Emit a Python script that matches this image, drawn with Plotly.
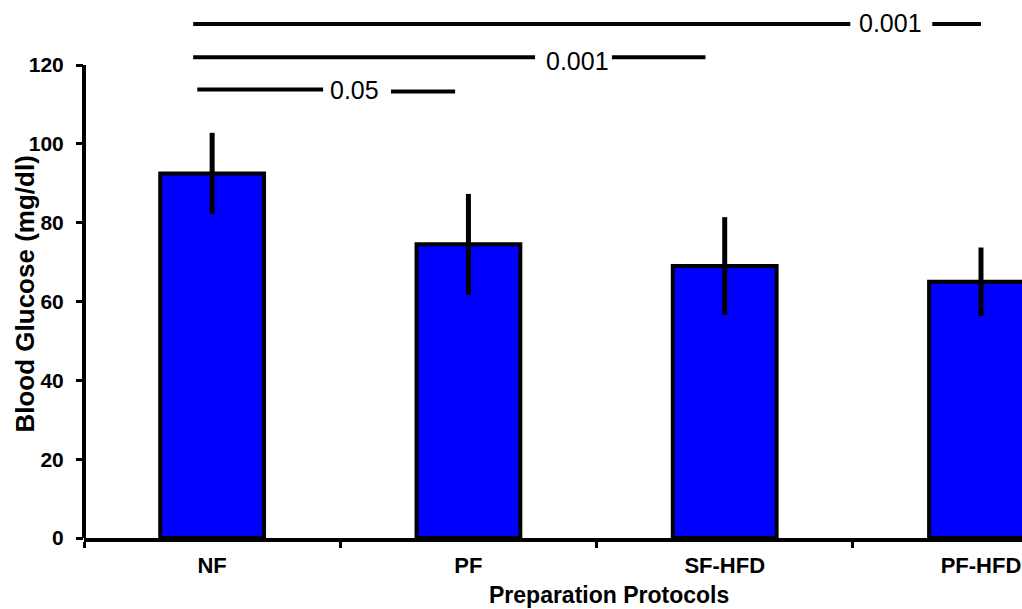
import plotly.graph_objects as go

# ---- data ----
categories = ["NF", "PF", "SF-HFD", "PF-HFD"]
glucose_mean = [92.5, 74.5, 69.0, 65.0]
glucose_err = [10.3, 12.8, 12.4, 8.7]
y_tick_values = [0, 20, 40, 60, 80, 100, 120]
sig_labels = ["0.001", "0.001", "0.05"]

# bracket layout (x in category units, y in axis units)
brackets = [
    dict(x0=-0.074, x1=2.49, x2=2.81, x3=3.0, y=130.4, y2=130.4, tx=2.645, ty=130.6),
    dict(x0=-0.074, x1=1.26, x2=1.56, x3=1.925, y=122.0, y2=122.0, tx=1.424, ty=121.0),
    dict(x0=-0.058, x1=0.433, x2=0.698, x3=0.948, y=113.8, y2=113.3, tx=0.554, ty=113.6),
]

FONT = "Arial, Liberation Sans, sans-serif"

fig = go.Figure()
fig.add_trace(go.Bar(
    x=categories,
    y=glucose_mean,
    width=0.405,
    marker=dict(color="#0000FF", line=dict(color="black", width=4)),
    error_y=dict(type="data", array=glucose_err, visible=True,
                 color="black", thickness=5, width=0),
    showlegend=False,
))

shapes = []
annotations = []
for b, lab in zip(brackets, sig_labels):
    shapes.append(dict(type="line", xref="x", yref="y", x0=b["x0"], x1=b["x1"],
                       y0=b["y"], y1=b["y"], line=dict(color="black", width=4)))
    shapes.append(dict(type="line", xref="x", yref="y", x0=b["x2"], x1=b["x3"],
                       y0=b["y2"], y1=b["y2"], line=dict(color="black", width=4)))
    annotations.append(dict(xref="x", yref="y", x=b["tx"], y=b["ty"], text=lab,
                            showarrow=False, xanchor="center", yanchor="middle",
                            font=dict(family=FONT, size=25, color="black")))

# y axis line only up to 120
shapes.append(dict(type="line", xref="paper", yref="y", x0=0, x1=0,
                   y0=0, y1=max(y_tick_values), line=dict(color="black", width=4)))

annotations.append(dict(xref="paper", yref="y", x=-0.063, y=62.0,
                        text="<b>Blood Glucose (mg/dl)</b>", textangle=-90,
                        showarrow=False, xanchor="center", yanchor="middle",
                        font=dict(family=FONT, size=26, color="black")))
annotations.append(dict(xref="paper", yref="paper", x=0.56, y=-0.106,
                        text="<b>Preparation Protocols</b>",
                        showarrow=False, xanchor="center", yanchor="middle",
                        font=dict(family=FONT, size=23, color="black")))

fig.update_layout(
    width=1022, height=609,
    margin=dict(l=84, r=0, t=0, b=71),
    plot_bgcolor="white", paper_bgcolor="white",
    shapes=shapes, annotations=annotations,
    xaxis=dict(type="category", range=[-0.5, 3.16], tickson="boundaries",
               ticks="outside", ticklen=6, tickwidth=3, tickcolor="black",
               showline=True, linewidth=4, linecolor="black", showgrid=False,
               tickfont=dict(family=FONT, size=22, color="black"),
               ticklabelstandoff=5),
    yaxis=dict(range=[0, 136.5], tickvals=y_tick_values,
               ticktext=["<b>%d</b>" % v for v in y_tick_values],
               ticks="outside", ticklen=7, tickwidth=3, tickcolor="black",
               showline=False, showgrid=False, zeroline=False,
               tickfont=dict(family=FONT, size=21, color="black"),
               ticklabelstandoff=8),
)
fig.update_xaxes(ticktext=["<b>%s</b>" % c for c in categories], tickvals=categories)

fig.write_html("out.html")
